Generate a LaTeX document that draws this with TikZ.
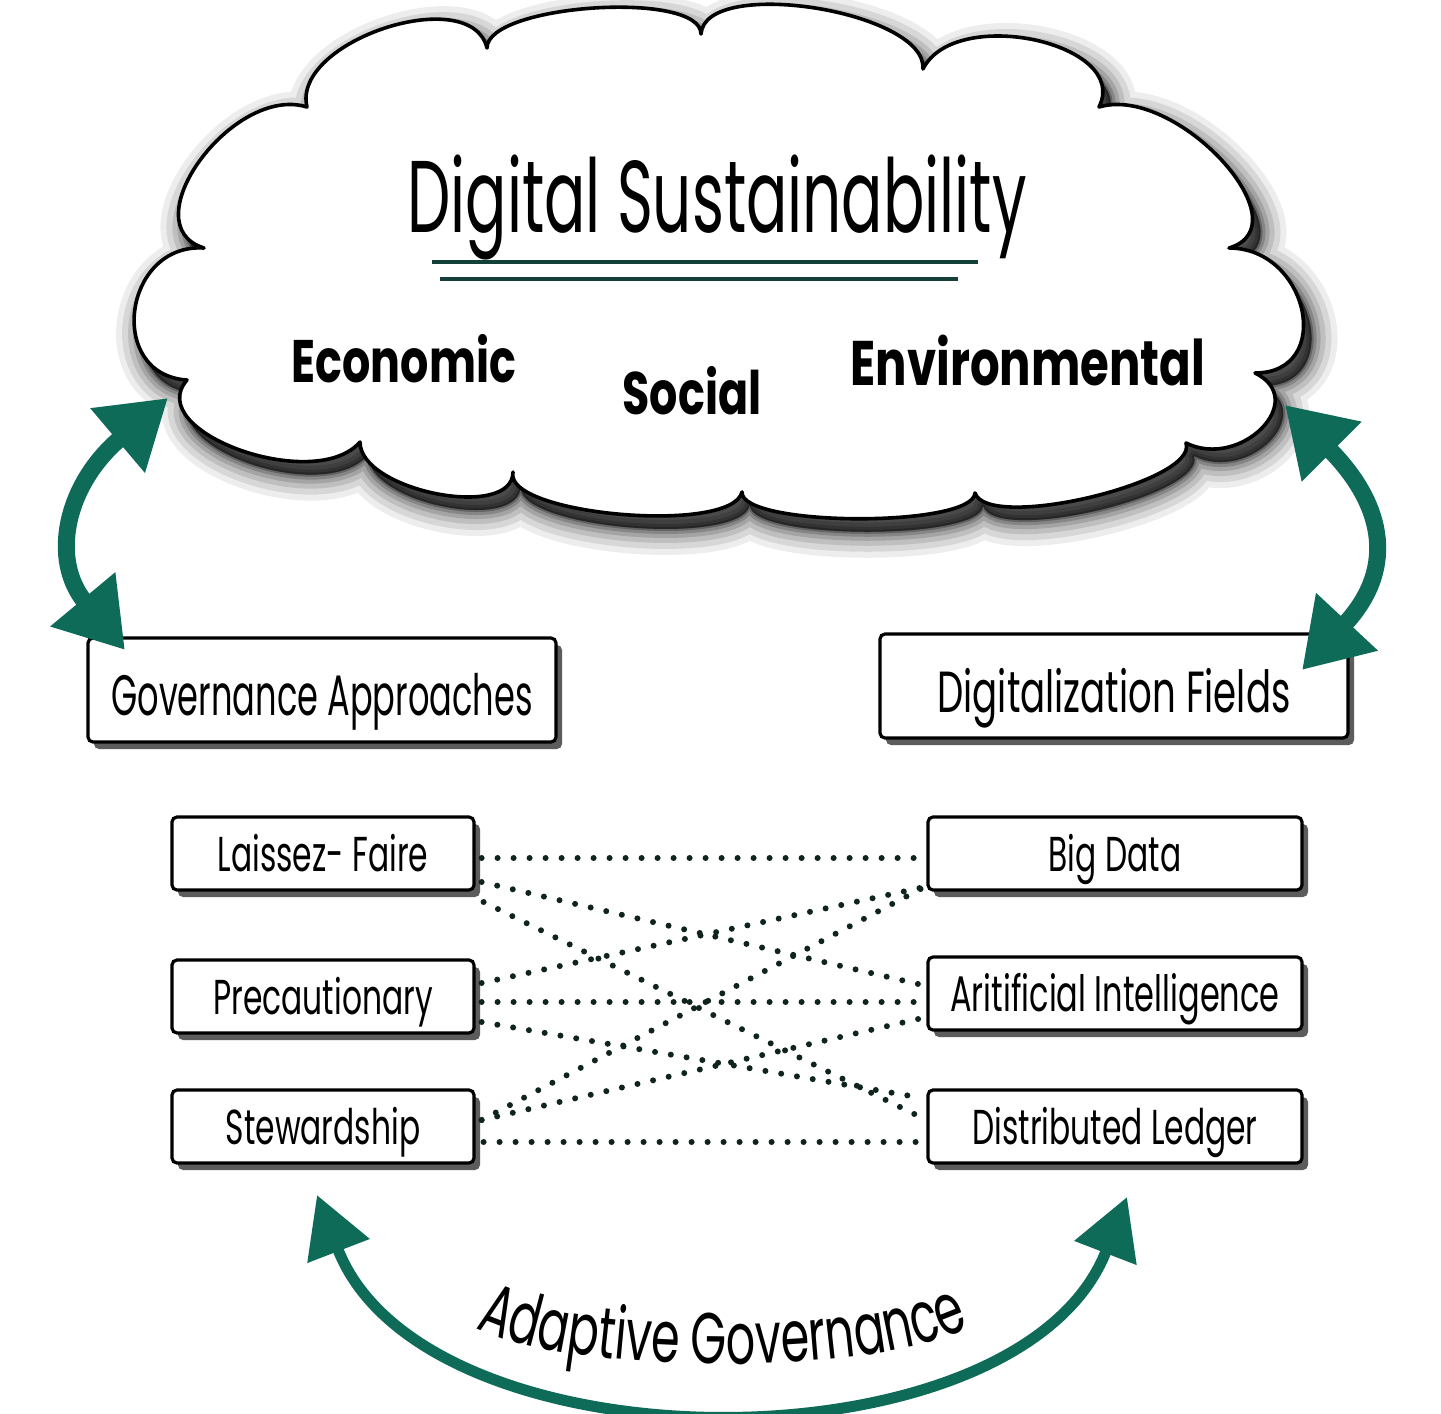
\documentclass[tikz,border=0pt]{standalone}
\usepackage{fontspec}
\setmainfont{Poppins}
\newfontfamily\condf[FakeStretch=0.64]{Poppins}
\newfontfamily\condg[FakeStretch=0.59]{Poppins}
\newfontfamily\condt[FakeStretch=0.60]{Poppins}
\newfontfamily\condb[FakeStretch=0.74]{Poppins}
\usetikzlibrary{arrows.meta,calc,decorations.text,shadows}
\definecolor{teal1}{HTML}{0E6B58}
\definecolor{dotc}{HTML}{10241F}
\definecolor{ulc}{HTML}{15403A}
\def\cloudpath{(307,107) .. controls (291,41) and (471,-18) .. (487,48)
 .. controls (487,4) and (701,-10) .. (701,34)
 .. controls (705,-24) and (927,11) .. (923,69)
 .. controls (955,5) and (1131,43) .. (1099,107)
 .. controls (1176,84) and (1306,225) .. (1229,248)
 .. controls (1309,248) and (1335,373) .. (1255,373)
 .. controls (1310,400) and (1241,470) .. (1186,443)
 .. controls (1199,482) and (988,532) .. (975,493)
 .. controls (973,528) and (740,527) .. (742,492)
 .. controls (732,535) and (503,515) .. (513,472)
 .. controls (513,521) and (360,491) .. (360,442)
 .. controls (315,494) and (142,432) .. (187,380)
 .. controls (106,375) and (123,243) .. (204,248)
 .. controls (130,225) and (233,84) .. (307,107) -- cycle}
\begin{document}
\begin{tikzpicture}[x=0.5pt,y=-0.5pt,
  box/.style={draw=black, line width=1.6pt, fill=white, rounded corners=2.5pt, inner sep=0pt,
    text depth=0pt,
    drop shadow={shadow xshift=3pt, shadow yshift=-3.5pt, fill=black!85, opacity=0.75}},
  bigbox/.style={box, minimum width=234pt, minimum height=52pt},
  smallL/.style={box, minimum width=151pt, minimum height=36.5pt, text height=18pt, font=\condf\fontsize{24.5}{28}\selectfont},
  smallR/.style={box, minimum width=187pt, minimum height=36.5pt, text height=18pt, font=\condf\fontsize{24.5}{28}\selectfont},
  pillar/.style={font=\condb\bfseries\fontsize{30}{34}\selectfont, inner sep=0pt, text height=21pt, text depth=0pt},
  dotline/.style={draw=dotc, line width=3pt, line cap=round, dash pattern=on 0pt off 8pt},
  bigarrow/.style={draw=teal1, line width=8.5pt, {Triangle[length=33pt,width=40pt]}-{Triangle[length=33pt,width=40pt]}},
  botarrow/.style={draw=teal1, line width=5.5pt, {Triangle[length=30pt,width=32pt]}-{Triangle[length=30pt,width=32pt]}},
]
\useasboundingbox (0,0) rectangle (1441,1414);
\fill[white] (0,0) rectangle (1441,1414);

% cloud shadow
\foreach \w/\o in {26/0.07, 20/0.09, 14/0.11, 9/0.14, 5/0.18, 2/0.25} {
  \path[fill=black, draw=black, line width=\w pt, line join=round, opacity=\o, shift={(8,13)}] \cloudpath;
}
% cloud
\path[fill=white, draw=black, line width=1.8pt, line join=round] \cloudpath;

\node[font=\condt\fontsize{51}{56}\selectfont, inner sep=0pt, text height=36pt, text depth=0pt] (title) at (717,196) {Digital Sustainability};
\draw[ulc, line width=1.7pt] (432,262) -- (978,262);
\draw[ulc, line width=1.7pt] (440,279) -- (958,279);

\node[pillar] (eco) at (404,361) {Economic};
\node[pillar] (soc) at (692,393) {Social};
\node[pillar, font=\condb\bfseries\fontsize{31.5}{34}\selectfont] (env) at (1028,364) {Environmental};

% boxes
\node[bigbox, text height=25pt, font=\condg\fontsize{28.5}{32}\selectfont] (ga) at (322,690) {Governance Approaches};
\node[bigbox, text height=26pt, font=\condf\fontsize{29}{32}\selectfont] (df) at (1114,686) {Digitalization Fields};

\node[smallL] (lf) at (323,853.5) {Laissez- Faire};
\node[smallL] (pc) at (323,996.5) {Precautionary};
\node[smallL] (sw) at (323,1126.5) {Stewardship};

\node[smallR] (bd) at (1115,853.5) {Big Data};
\node[smallR, font=\condf\fontsize{25}{28}\selectfont] (ai) at (1115,993.5) {Aritificial Intelligence};
\node[smallR] (dl) at (1115,1126.5) {Distributed Ledger};

% dotted links
\draw[dotline] ($(lf.east)+(6,4.5)$) -- ($(bd.west)+(-4,4.5)$);
\draw[dotline] ($(lf.east)+(6,28.5)$) -- ($(ai.west)+(-4,-8.5)$);
\draw[dotline] ($(lf.east)+(8,48.5)$) -- ($(dl.west)+(-4,-8.5)$);
\draw[dotline] ($(pc.east)+(6,-13.5)$) -- ($(bd.west)+(-2,33.5)$);
\draw[dotline] ($(pc.east)+(6,5.5)$) -- ($(ai.west)+(-4,8.5)$);
\draw[dotline] ($(pc.east)+(6,25.5)$) -- ($(dl.west)+(-4,-28.5)$);
\draw[dotline] ($(sw.east)+(6,-6.5)$) -- ($(bd.west)+(-2,33.5)$);
\draw[dotline] ($(sw.east)+(6,-6.5)$) -- ($(ai.west)+(-4,24.5)$);
\draw[dotline] ($(sw.east)+(8,15.5)$) -- ($(dl.west)+(-4,15.5)$);

% side arrows
\coordinate (la1) at (125,650);
\coordinate (la2) at (168,398);
\draw[bigarrow] (la1) .. controls (50,560) and (65,485) .. (la2);
\coordinate (ra1) at (1285,405);
\coordinate (ra2) at (1302,670);
\draw[bigarrow] (ra1) .. controls (1380,500) and (1400,565) .. (ra2);

% bottom arrow
\coordinate (ba1) at (317,1195);
\coordinate (ba2) at (1127,1197);
\draw[botarrow] (ba1) .. controls (424,1473) and (1020,1474) .. (ba2);

\coordinate (ag1) at (466,1322);
\coordinate (ag2) at (980,1322);
\path[decorate, decoration={text along path, text align=center,
   text={|\condf\fontsize{36}{40}\selectfont|Adaptive Governance}}]
   (ag1) .. controls (552,1378) and (894,1378) .. (ag2);
\end{tikzpicture}
\end{document}
